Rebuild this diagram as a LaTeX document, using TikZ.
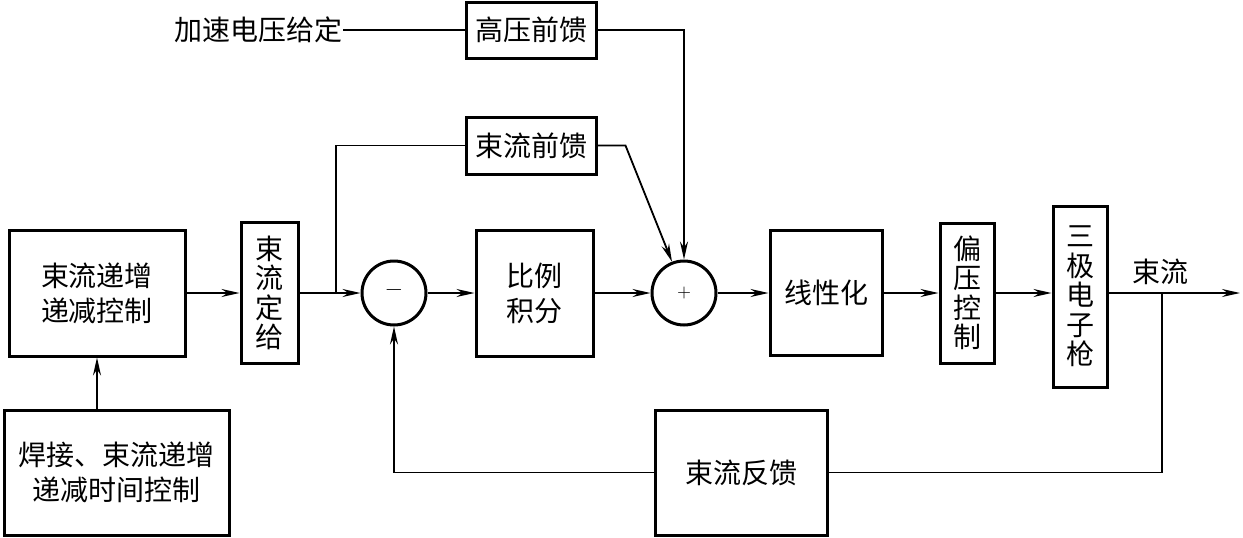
\documentclass[tikz,border=0pt]{standalone}
\usepackage{fontspec}
\newfontfamily\cjk{Noto Sans CJK SC}
\usetikzlibrary{arrows.meta}
\begin{document}
\begin{tikzpicture}[x=1pt,y=-1pt,
  blk/.style={draw, line width=3pt, inner sep=0pt, align=center, font=\cjk\fontsize{28}{35}\selectfont},
  vblk/.style={blk, font=\cjk\fontsize{28}{29.5}\selectfont},
  sumnode/.style={draw, circle, line width=3pt, minimum size=64pt, inner sep=0pt},
  conn/.style={line width=1.8pt},
  arr/.style={conn, -{Stealth[length=18pt,width=8pt,inset=6pt]}},
  lbl/.style={inner sep=0pt, font=\cjk\fontsize{28}{30}\selectfont}]
\useasboundingbox (0,0) rectangle (1243,538);
\node[blk, minimum width=176pt, minimum height=126pt] (ramp) at (97,293) {束流递增\\递减控制};
\node[blk, minimum width=225pt, minimum height=125pt] (time) at (116.5,472.5) {焊接、束流递增\\递减时间控制};
\node[vblk, minimum width=57pt, minimum height=141pt] (set) at (269.5,293) {束\\流\\定\\给};
\node[sumnode] (minus) at (394,293) {\scalebox{2.2}{−}};
\node[blk, minimum width=117pt, minimum height=126pt] (pi) at (534.5,293) {比例\\积分};
\node[sumnode] (plus) at (684,293) {\scalebox{1.8}{+}};
\node[blk, minimum width=112pt, minimum height=125pt] (lin) at (826,293) {线性化};
\node[vblk, minimum width=54pt, minimum height=140pt] (bias) at (967,293) {偏\\压\\控\\制};
\node[vblk, minimum width=54pt, minimum height=181pt] (gun) at (1080,296.5) {三\\极\\电\\子\\枪};
\node[blk, minimum width=130pt, minimum height=56pt] (hvff) at (531,30) {高压前馈};
\node[blk, minimum width=130pt, minimum height=57pt] (bcff) at (531,145.5) {束流前馈};
\node[blk, minimum width=172pt, minimum height=125pt] (fb) at (741,472.5) {束流反馈};
\node[lbl, anchor=east] (acc) at (343,30) {加速电压给定};
\node[lbl] (outl) at (1160,272) {束流};
\coordinate (out) at (1240,293);
\coordinate (tap) at (336,293);
\coordinate (tap2) at (1162,293);
\draw[arr] (ramp.east) -- (set.west);
\draw[arr] (set.east) -- (minus.west);
\draw[arr] (time.north -| ramp.south) -- (ramp.south);
\draw[conn] (tap) |- (bcff.west);
\draw[arr] (minus.east) -- (pi.west);
\draw[arr] (pi.east) -- (plus.west);
\draw[arr] (plus.east) -- (lin.west);
\draw[arr] (lin.east) -- (bias.west);
\draw[arr] (bias.east) -- (bias.east -| gun.west);
\draw[arr] (gun.east |- out) -- (out);
\draw[conn] (acc.east) -- (hvff.west);
\draw[arr] (hvff.east) -| (plus.north);
\draw[arr] (bcff.east) -- ++(28,0) -- (plus.111);
\draw[conn] (tap2) |- (fb.east);
\draw[arr] (fb.west) -| (minus.south);
\end{tikzpicture}
\end{document}
